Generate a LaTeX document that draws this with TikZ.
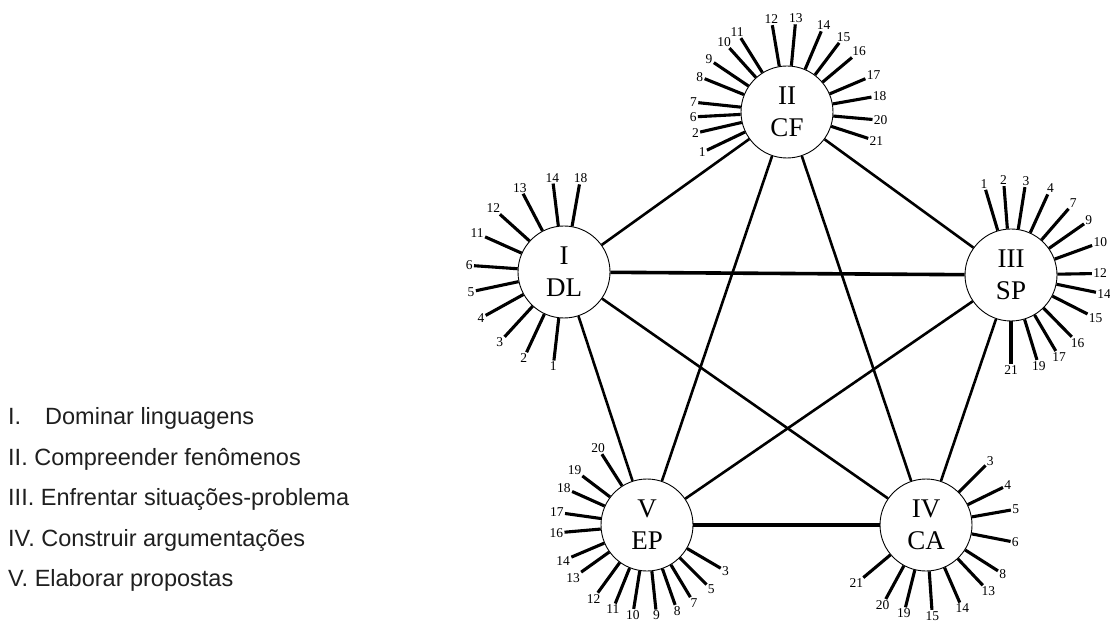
\documentclass[tikz,border=0pt]{standalone}
\usepackage{fontspec}
\setmainfont{Liberation Serif}
\newfontfamily\legendfont{Liberation Sans}
\usetikzlibrary{calc}
\begin{document}
\begin{tikzpicture}[x=1pt,y=1pt,
  comp/.style={circle,draw,line width=0.9pt,fill=white,minimum size=92pt,inner sep=0pt,align=center,font=\fontsize{27}{32}\selectfont},
  link/.style={line width=2.6pt},
  hlink/.style={line width=3.6pt},
  num/.style={inner sep=1.2pt,font=\fontsize{13.5}{13.5}\selectfont},
  spoke/.style={line width=3.1pt},
  legend/.style={anchor=base west,inner sep=0pt,font=\legendfont\fontsize{23.5}{28}\selectfont,text=black!88}]
\fill[white] (0,0) rectangle (1110,624);
\useasboundingbox (0,0) rectangle (1110,624);

% components
\node[comp] (I)   at (564,352)  {I\\DL};
\node[comp] (II)  at (787,512)  {II\\CF};
\node[comp] (III) at (1011,349) {III\\SP};
\node[comp] (IV)  at (926,99)   {IV\\CA};
\node[comp] (V)   at (647,99)   {V\\EP};

% links
\draw[link] (I) -- (II);
\draw[link] (II) -- (III);
\draw[link] (III) -- (IV);
\draw[link] (V) -- (I);
\draw[link] (I) -- (IV);
\draw[link] (II) -- (IV);
\draw[link] (II) -- (V);
\draw[link] (III) -- (V);
\draw[hlink] (I) -- (III);
\draw[hlink] (V) -- (IV);

% spokes
\foreach \a/\t in {117.6/13,97/14,80/18,138/12,156/11,176/6,192/5,209/4,227.5/3,245/2,263.5/1}{
  \node[num] (I-\t) at ($(I)+(\a:95)$) {\t};
  \draw[spoke] (I) -- (I-\t);
}
\foreach \a/\t in {205.5/1,193/2,183/6,174/7,158/8,146/9,132/10,122/11,99.6/12,84.6/13,67/14,53/15,40/16,23/17,10/18,-5/20,-18/21}{
  \node[num] (II-\t) at ($(II)+(\a:94)$) {\t};
  \draw[spoke] (II) -- (II-\t);
}
\foreach \a/\t/\d in {106.6/1/95,94.5/2/95,81/3/95,65.5/4/95,49/7/95,35/9/95,20/10/95,1/12/89,-11.5/14/95,-27/15/95,-45.5/16/95,-59.5/17/95,-73/19/95,-90/21/95}{
  \node[num] (III-\t) at ($(III)+(\a:\d)$) {\t};
  \draw[spoke] (III) -- (III-\t);
}
\foreach \a/\t in {45/3,26/4,10/5,-11/6,-32.5/8,-46.7/13,-66.5/14,-86/15,-104/19,-118.5/20,-140/21}{
  \node[num] (IV-\t) at ($(IV)+(\a:91)$) {\t};
  \draw[spoke] (IV) -- (IV-\t);
}
\foreach \a/\t in {122.5/20,142.8/19,155.9/18,172/17,185/16,203/14,215.6/13,234/12,248/11,261/10,276/9,289.4/8,301/7,315/5,329.6/3}{
  \node[num] (V-\t) at ($(V)+(\a:91)$) {\t};
  \draw[spoke] (V) -- (V-\t);
}

% legend
\node[legend] (L1) at (8,200) {\makebox[37pt][l]{I.}Dominar linguagens};
\node[legend] (L2) at (8,159) {II. Compreender fenômenos};
\node[legend] (L3) at (8,119) {III. Enfrentar situações-problema};
\node[legend] (L4) at (8,78)  {IV. Construir argumentações};
\node[legend] (L5) at (8,38)  {V. Elaborar propostas};
\end{tikzpicture}
\end{document}
